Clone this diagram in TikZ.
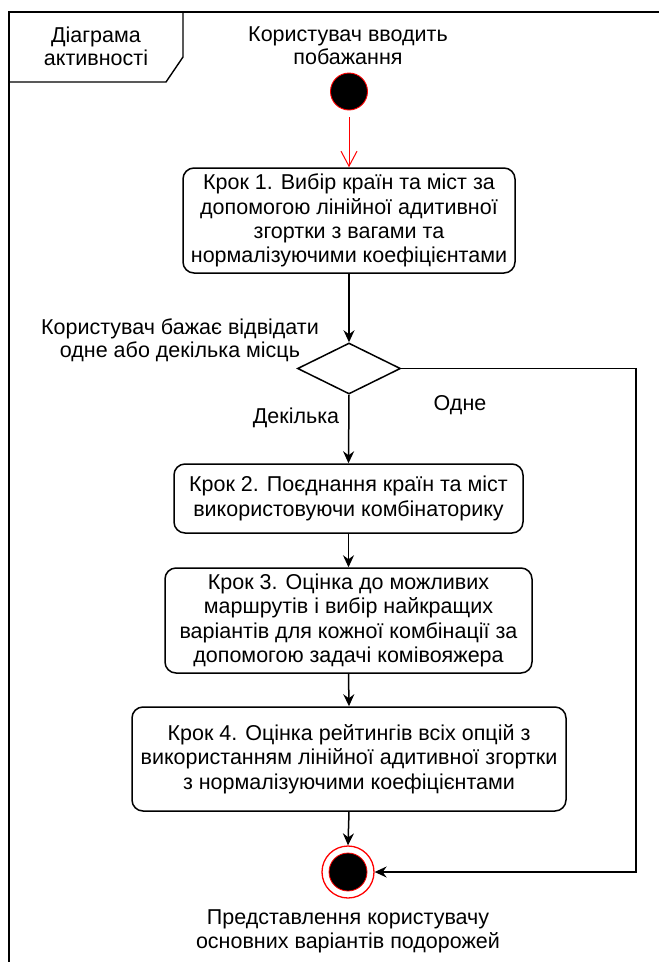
\documentclass[tikz,border=0pt]{standalone}
\usepackage{fontspec}
\setmainfont{Liberation Sans}
\usetikzlibrary{shapes.geometric,arrows.meta}
\begin{document}
\begin{tikzpicture}[x=1pt,y=-1pt,
  lbl/.style={font=\fontsize{21.5}{23.5}\selectfont, align=center, inner sep=0pt},
  stepbox/.style={draw, line width=1.5pt, rounded corners=11pt, align=center, inner sep=0pt, font=\fontsize{21.5}{24.3}\selectfont},
  flow/.style={line width=1.5pt, -{Stealth[length=12pt,width=11pt,inset=4pt]}},
  redflow/.style={draw=red, line width=1pt, -{Straight Barb[length=15pt,width=16pt]}}
]
\useasboundingbox (0,0) rectangle (659,962);
% frame
\draw[line width=1.6pt] (9,962) -- (9,12) -- (659,12);
\draw[line width=1.4pt] (9,82) -- (166,82) -- (183,57) -- (183,12);
\node[lbl] (ftitle) at (96,46.5) {Діаграма\\активності};

% start
\node[lbl] (toplabel) at (348,45.5) {Користувач вводить\\побажання};
\node[circle, fill=black, draw=red, line width=0.9pt, minimum size=37pt, inner sep=0pt] (start) at (349,91.5) {};

% step 1
\node[stepbox, minimum width=332pt, minimum height=105pt] (s1) at (349,220.5)
  {Крок 1. Вибір країн та міст за\\допомогою лінійної адитивної\\згортки з вагами та\\нормалізуючими коефіцієнтами};
\draw[redflow] ([yshift=-7pt]start.south) -- (s1.north);

% decision
\node[diamond, draw, line width=1.5pt, minimum width=103pt, minimum height=51pt, inner sep=0pt] (dec) at (349,368.5) {};
\draw[flow] (s1.south) -- (dec.north);
\node[lbl] (qlabel) at (180,340.5) {Користувач бажає відвідати\\одне або декілька місць};
\node[lbl] (many) at (296,418) {Декілька};
\node[lbl] (one) at (460,405) {Одне};

% step 2
\node[stepbox, minimum width=349pt, minimum height=69pt] (s2) at (348.5,498.5)
  {Крок 2. Поєднання країн та міст\\використовуючи комбінаторику};
\draw[flow] (dec.south) -- (s2.north);

% step 3
\node[stepbox, minimum width=367pt, minimum height=105pt] (s3) at (348.5,620.5)
  {Крок 3. Оцінка до можливих\\маршрутів і вибір найкращих\\варіантів для кожної комбінації за\\допомогою задачі комівояжера};
\draw[flow] (s2.south) -- (s3.north);

% step 4
\node[stepbox, minimum width=434pt, minimum height=104pt] (s4) at (349,759)
  {Крок 4. Оцінка рейтингів всіх опцій з\\використанням лінійної адитивної згортки\\з нормалізуючими коефіцієнтами};
\draw[flow] (s3.south) -- (s4.north);

% end
\node[circle, fill=white, draw=red, line width=1.3pt, minimum size=52pt, inner sep=0pt] (endo) at (348,872) {};
\node[circle, fill=black, draw=red, line width=0.8pt, minimum size=38pt, inner sep=0pt] (endi) at (348,872) {};
\draw[flow] (s4.south) -- (endo.north);
\coordinate (corner) at (636,368.5);
\draw[flow] (dec.east) -- (corner) |- (endo.east);
\node[lbl] (endlabel) at (348,931.5) {Представлення користувачу\\основних варіантів подорожей};
\end{tikzpicture}
\end{document}
